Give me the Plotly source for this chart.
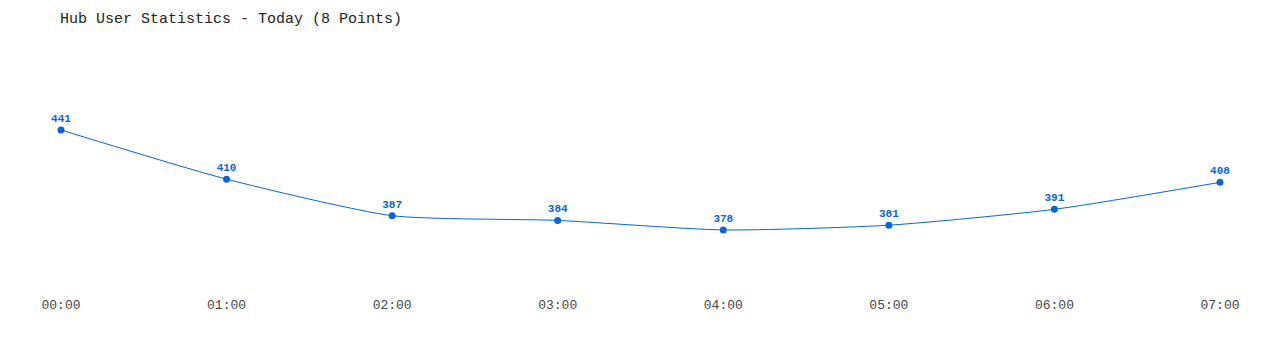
import plotly.graph_objects as go

times = ["00:00", "01:00", "02:00", "03:00", "04:00", "05:00", "06:00", "07:00"]
users = [441, 410, 387, 384, 378, 381, 391, 408]

color = "#0a64d2"
font_family = "Liberation Mono, Courier New, monospace"

fig = go.Figure()
fig.add_trace(go.Scatter(
    x=list(range(len(times))),
    y=users,
    mode="lines+markers+text",
    line=dict(color=color, width=1, shape="spline", smoothing=0.6),
    marker=dict(color=color, size=7),
    text=[str(v) for v in users],
    textposition="top center",
    textfont=dict(color=color, size=11, family=font_family, weight="bold"),
    cliponaxis=False,
    hoverinfo="x+y",
))

fig.update_layout(
    width=1280, height=350,
    margin=dict(l=61, r=60, t=40, b=58),
    paper_bgcolor="white", plot_bgcolor="white",
    showlegend=False,
    title=dict(text="Hub User Statistics - Today (8 Points)", x=60/1280, xanchor="left",
               y=1 - 18/350, yanchor="middle",
               font=dict(family=font_family, size=15, color="#222222")),
    xaxis=dict(range=[0, 7], tickvals=list(range(len(times))), ticktext=times,
               showgrid=False, zeroline=False, showline=False, ticks="",
               ticklabelstandoff=3,
               tickfont=dict(family=font_family, size=13, color="#444444")),
    yaxis=dict(range=[338.9, 497.7], showgrid=False, zeroline=False, showline=False,
               showticklabels=False),
)

fig.write_html("out.html")
